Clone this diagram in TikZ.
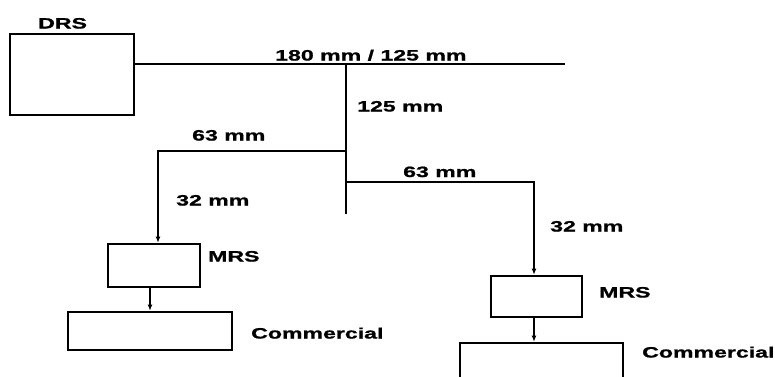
\documentclass[tikz,border=0pt]{standalone}
\usepackage{fontspec}
\setmainfont{Liberation Sans}[FakeStretch=1.54, BoldFeatures={FakeBold=1.2}]
\usepackage{tikz}
\usetikzlibrary{
  arrows.meta,
  positioning,
  calc
}
\tikzset{
  box/.style={
    rectangle,
    draw=black,
    line width=2.6pt,
    inner sep=0pt
  },
  lbl/.style={
    anchor=base west,
    inner sep=0pt,
    font=\fontsize{15}{18}\selectfont\bfseries
  },
  pipe/.style={
    line width=2.2pt
  },
  arrow/.style={
    -{Latex[length=6pt,width=5pt]},
    line width=2.2pt
  }
}

\begin{document}
\begin{tikzpicture}[x=1pt, y=-1pt]
\useasboundingbox (0,0) rectangle (775,376);
\clip (0,0) rectangle (775,376);

% boxes
\node[box, minimum width=124pt, minimum height=81pt] (drs) at (72,74.5) {};
\node[box, minimum width=92pt, minimum height=43pt] (mrsL) at (154,265.5) {};
\node[box, minimum width=164pt, minimum height=38pt] (comL) at (150,331) {};
\node[box, minimum width=91pt, minimum height=41pt] (mrsR) at (536.5,296.5) {};
\node[box, minimum width=163pt, minimum height=45pt] (comR) at (541.5,365.5) {};

% junctions
\coordinate (mainEnd) at (565,64);
\coordinate (trunkTop) at (346,64);
\coordinate (trunkEnd) at (346,214);
\coordinate (teeL) at (346,151);
\coordinate (cornerL) at (158,151);
\coordinate (teeR) at (346,182);
\coordinate (cornerR) at (534,182);

% labels
\node[lbl] (drsLbl) at (38,28.5) {DRS};
\node[lbl] (mainLbl) at (275,60.5) {180 mm / 125 mm};
\node[lbl] (trunkLbl) at (357,111.5) {125 mm};
\node[lbl] (branchLLbl) at (192,140.5) {63 mm};
\node[lbl] (dropLLbl) at (176,205.5) {32 mm};
\node[lbl] (mrsLLbl) at (208,261.5) {MRS};
\node[lbl] (comLLbl) at (251,338.5) {Commercial};
\node[lbl] (branchRLbl) at (403,177) {63 mm};
\node[lbl] (dropRLbl) at (550,231.5) {32 mm};
\node[lbl] (mrsRLbl) at (599,297.5) {MRS};
\node[lbl] (comRLbl) at (642,357.5) {Commercial};

% pipes
\draw[pipe] (drs.east |- mainEnd) -- (mainEnd);
\draw[pipe] (trunkTop) -- (trunkEnd);
\draw[arrow] (teeL) -- (cornerL) -- (cornerL |- mrsL.north);
\draw[arrow] (teeR) -- (cornerR) -- (cornerR |- mrsR.north);
\draw[arrow] (comL.north |- mrsL.south) -- (comL.north);
\draw[arrow] (cornerR |- mrsR.south) -- (cornerR |- comR.north);
\end{tikzpicture}
\end{document}
